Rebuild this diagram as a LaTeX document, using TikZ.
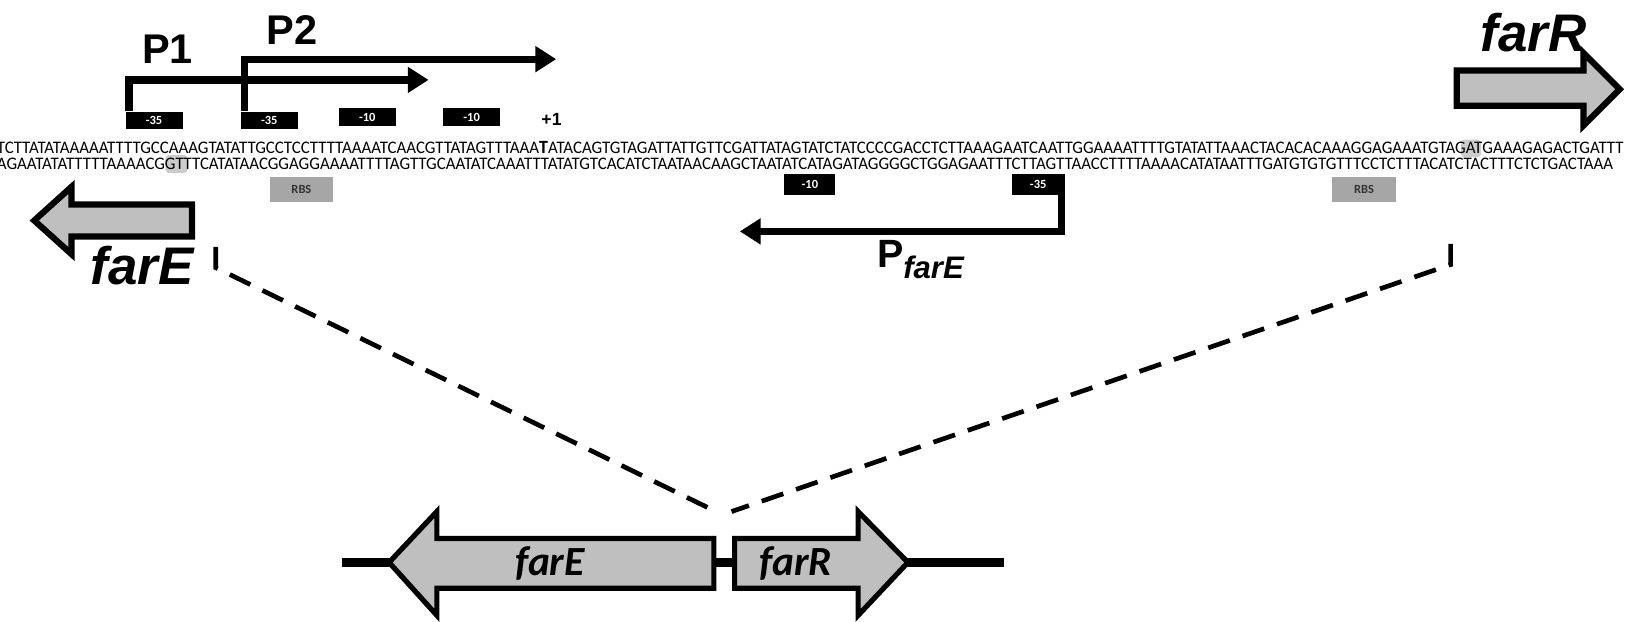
\documentclass[tikz,border=0pt]{standalone}
\usepackage{fontspec}
\setmainfont{Liberation Sans}
\newfontfamily\seqfont[FakeStretch=0.955]{Carlito}
\newfontfamily\calfont{Carlito}
\usetikzlibrary{arrows.meta,positioning,fit,backgrounds}

\begin{document}
\begin{tikzpicture}[
    x=1pt, y=-1pt,
    seq/.style={inner sep=0pt, outer sep=0pt, anchor=base west, font=\seqfont\fontsize{17}{20}\selectfont},
    seqbold/.style={seq, font=\seqfont\bfseries\fontsize{18}{20}\selectfont},
    hilite/.style={fill=black!20, rounded corners=3pt, inner xsep=1.5pt, inner ysep=3pt},
    boxlbl/.style={fill=black, text=white, font=\calfont\bfseries\fontsize{12}{13}\selectfont, minimum width=55pt, minimum height=17pt, inner sep=0pt},
    rbs/.style={fill=black!35, text=black!80, font=\calfont\bfseries\fontsize{12}{13}\selectfont, minimum width=61pt, minimum height=24pt, inner sep=0pt},
    prom/.style={line width=7pt, -{Triangle[length=20pt,width=24pt]}},
    gene/.style={draw=black, line width=6pt, fill=black!25, line join=miter},
    bigname/.style={font=\bfseries\itshape\fontsize{51}{56}\selectfont, inner sep=0pt},
    smallname/.style={font=\calfont\bfseries\itshape\fontsize{40}{44}\selectfont, inner sep=0pt},
    zoomline/.style={line width=4.5pt, dash pattern=on 22pt off 13pt}
]
\useasboundingbox (0,0) rectangle (1568,599);

% Sequence, top strand
\node[seq] (t1) at (-3,147.5) {TCTTATATAAAAATTTTGCCAAAGTATATTGCCTCCTTTTAAAATCAACGTTATAGTTTAAA};
\node[seqbold] (tss) at (t1.base east) {T};
\node[seq] (t2) at (tss.base east) {ATACAGTGTAGATTATTGTTCGATTATAGTATCTATCCCCGACCTCTTAAAGAATCAATTGGAAAATTTTGTATATTAAACTACACACAAAGGAGAAATGTAG};
\node[seq] (tstart) at (t2.base east) {AT};
\node[seq] (t3) at (tstart.base east) {GAAAGAGACTGATTT};

% Sequence, bottom strand
\node[seq] (b1) at (-3,163.5) {AGAATATATTTTTAAAACG};
\node[seq] (bstart) at (b1.base east) {GT};
\node[seq] (b2) at (bstart.base east) {TTCATATAACGGAGGAAAATTTTAGTTGCAATATCAAATTTATATGTCACATCTAATAACAAGCTAATATCATAGATAGGGGCTGGAGAATTTCTTAGTTAACCTTTTAAAACATATAATTTGATGTGTGTTTCCTCTTTACATCTACTTTCTCTGACTAAA};

\begin{scope}[on background layer]
\node[hilite, fit=(tstart), xshift=-3pt, yshift=-1pt] (hlR) {};
\node[hilite, fit=(bstart), xshift=2pt] (hlE) {};
\end{scope}

% Boxes
\node[boxlbl] (m35a) at (148.5,116) {-35};
\node[boxlbl] (m35b) at (259.5,116) {-35};
\node[boxlbl] (m10a) at (354,113) {-10};
\node[boxlbl] (m10b) at (454.5,113) {-10};
\node[boxlbl, minimum width=49pt, minimum height=20pt] (m10c) at (780.5,178) {-10};
\node[boxlbl, minimum width=51pt, minimum height=20pt] (m35c) at (1000.5,178) {-35};
\node[rbs] (rbsE) at (290.5,182.5) {RBS};
\node[rbs] (rbsR) at (1314.5,182.5) {RBS};
\node[font=\bfseries\fontsize{17}{20}\selectfont, inner sep=0pt] (plus1) at (531.5,115.5) {+1};

% Promoters
\coordinate (p1end) at (413,77);
\coordinate (p2end) at (536,57);
\coordinate (pEend) at (713,223);
\draw[prom] ([xshift=3.5pt]m35a.north west) |- (p1end);
\draw[prom] ([xshift=3.5pt]m35b.north west) |- (p2end);
\draw[prom] ([xshift=-3.5pt]m35c.south east) |- (pEend);
\node[font=\bfseries\fontsize{40}{44}\selectfont, inner sep=0pt] (p1lbl) at (161.5,47) {P1};
\node[font=\bfseries\fontsize{40}{44}\selectfont, inner sep=0pt] (p2lbl) at (281.5,29) {P2};
\node[inner sep=0pt, anchor=base west] (pElbl) at (845,258)
  {\bfseries\fontsize{38}{40}\selectfont P\raisebox{-10pt}{\fontsize{30}{32}\selectfont\itshape farE}};

% Genes in the sequence view
\draw[gene] (33,212.5) -- (69,180) -- (69,197) -- (185,197) -- (185,228) -- (69,228) -- (69,245) -- cycle;
\draw[gene] (1404,68) -- (1526,68) -- (1526,51) -- (1561,86) -- (1526,121) -- (1526,102) -- (1404,102) -- cycle;
\node[bigname] (farEtop) at (137,256) {farE};
\node[bigname] (farRtop) at (1478,31) {farR};

% Zoom lines
\coordinate (lz0) at (208,238);
\coordinate (lz1) at (208,258);
\coordinate (lzm) at (690,493);
\coordinate (rz0) at (1398,235);
\coordinate (rz1) at (1398,255);
\coordinate (rzm) at (705,493);
\draw[zoomline] (lz0) -- (lz1) -- (lzm);
\draw[zoomline] (rz0) -- (rz1) -- (rzm);

% Locus
\coordinate (locL) at (330,542);
\coordinate (locR) at (968,542);
\draw[line width=8pt] (locL) -- (locR);
\draw[gene, line width=5pt] (375,542) -- (421,493) -- (421,519) -- (688,519) -- (688,567) -- (421,567) -- (421,593) -- cycle;
\draw[gene, line width=5pt] (708,519) -- (827,519) -- (827,493) -- (875,542) -- (827,593) -- (827,567) -- (708,567) -- cycle;
\node[smallname] (farE) at (530,543) {farE};
\node[smallname] (farR) at (767,543) {farR};

\end{tikzpicture}
\end{document}
